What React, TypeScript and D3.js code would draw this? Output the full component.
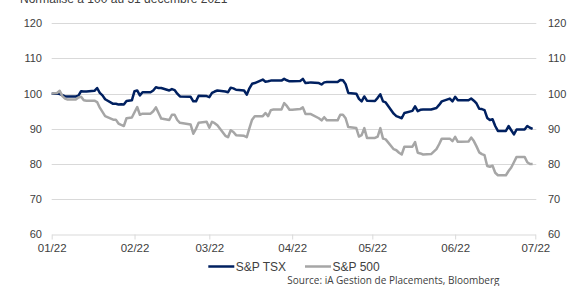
import React, { useEffect, useRef } from 'react'
import * as d3 from 'd3'

// dates (2022) and normalised values
const dates = [
	'01-01', '01-03', '01-04', '01-05', '01-06', '01-07', '01-10', '01-11', '01-12', '01-13',
	'01-14', '01-17', '01-18', '01-19', '01-20', '01-21', '01-24', '01-25', '01-26', '01-27',
	'01-28', '01-29', '01-31', '02-01', '02-02', '02-03', '02-04', '02-07', '02-08', '02-09',
	'02-10', '02-11', '02-14', '02-15', '02-16', '02-17', '02-18', '02-22', '02-23', '02-24',
	'02-25', '02-28', '03-01', '03-02', '03-03', '03-04', '03-07', '03-08', '03-09', '03-10',
	'03-11', '03-14', '03-15', '03-16', '03-17', '03-18', '03-21', '03-22', '03-23', '03-24',
	'03-25', '03-28', '03-29', '03-30', '03-31', '04-01', '04-04', '04-05', '04-06', '04-07',
	'04-08', '04-11', '04-12', '04-13', '04-14', '04-18', '04-19', '04-20', '04-21', '04-22',
	'04-25', '04-26', '04-27', '04-28', '04-29', '05-02', '05-03', '05-04', '05-05', '05-06',
	'05-09', '05-10', '05-11', '05-12', '05-13', '05-16', '05-17', '05-18', '05-19', '05-20',
	'05-23', '05-24', '05-25', '05-26', '05-27', '05-30', '05-31', '06-01', '06-02', '06-03',
	'06-06', '06-07', '06-08', '06-09', '06-10', '06-11', '06-12', '06-13', '06-14', '06-15',
	'06-16', '06-17', '06-20', '06-21', '06-22', '06-23', '06-24', '06-27', '06-28', '06-29',
	'06-30'
]

const tsx = [
	100.0, 100.0, 99.9, 99.6, 99.2, 99.2, 99.2, 99.4, 100.7, 100.6,
	100.6, 100.8, 101.6, 100.2, 99.5, 98.4, 97.1, 97.1, 96.9, 97.0,
	96.9, 97.9, 98.1, 100.7, 100.9, 99.5, 100.4, 100.4, 100.9, 101.8,
	101.6, 101.6, 100.9, 101.3, 101.0, 100.0, 99.2, 99.1, 97.8, 97.8,
	99.4, 99.3, 99.0, 100.2, 100.6, 100.9, 100.6, 100.4, 101.7, 101.5,
	101.1, 100.9, 99.7, 101.5, 102.8, 103.0, 104.0, 103.4, 103.5, 103.7,
	103.7, 103.7, 104.2, 103.8, 103.5, 103.5, 103.6, 104.2, 103.0, 103.1,
	103.2, 103.0, 102.6, 103.2, 103.3, 103.3, 103.9, 103.8, 102.7, 100.2,
	100.0, 98.5, 97.8, 99.2, 98.0, 97.9, 98.8, 99.8, 97.8, 97.5,
	94.3, 93.6, 93.3, 93.0, 94.5, 95.1, 96.4, 95.0, 95.4, 95.5,
	95.5, 95.7, 95.9, 96.8, 97.8, 98.6, 97.8, 99.1, 98.1, 98.1,
	98.1, 98.6, 98.0, 97.2, 95.7, 95.6, 95.3, 93.1, 92.5, 92.7,
	90.8, 89.4, 89.4, 90.8, 89.6, 88.4, 89.8, 89.8, 90.8, 90.3,
	90.0
]

const spx = [
	100.0, 100.2, 100.8, 99.3, 98.6, 98.3, 98.3, 98.9, 99.1, 98.1,
	98.0, 98.0, 97.6, 96.0, 94.8, 93.6, 92.6, 92.6, 91.5, 91.1,
	90.8, 93.0, 93.2, 94.7, 96.2, 94.0, 94.3, 94.3, 95.0, 96.1,
	94.5, 92.9, 92.5, 94.0, 94.0, 92.5, 91.7, 91.2, 88.6, 90.0,
	91.7, 92.0, 90.3, 92.0, 91.6, 91.0, 88.0, 87.6, 89.6, 89.1,
	88.2, 88.0, 87.6, 90.2, 92.6, 93.6, 93.6, 94.5, 93.6, 95.3,
	95.5, 95.5, 97.3, 96.5, 95.4, 95.4, 95.6, 96.1, 94.2, 94.2,
	94.2, 93.0, 92.4, 93.3, 92.4, 92.4, 94.0, 94.0, 93.0, 90.5,
	90.2, 87.8, 88.2, 90.2, 87.4, 87.4, 87.8, 90.2, 87.2, 87.0,
	84.2, 83.9, 83.2, 82.7, 84.9, 84.9, 86.2, 83.2, 83.0, 82.7,
	82.8, 83.5, 84.2, 85.6, 87.2, 87.2, 86.5, 87.7, 86.3, 86.3,
	86.4, 87.5, 86.5, 85.0, 83.3, 82.8, 82.5, 79.4, 79.2, 79.5,
	77.5, 76.8, 76.8, 78.0, 79.0, 80.5, 82.0, 82.0, 80.5, 80.0,
	80.0
]

const yTicks = [60, 70, 80, 90, 100, 110, 120]
const xTicks = ['2022-01-01', '2022-02-01', '2022-03-01', '2022-04-01', '2022-05-01', '2022-06-01', '2022-07-01']

const seriesNames = ['S&P TSX', 'S&P 500']
const seriesColors = ['#002060', '#A6A6A6']

const width = 582
const height = 286
const marginLeft = 51.7
const plotRight = 535.3
const plotTop = 23.3
const plotBottom = 234.3

const App = () => {
	const ref = useRef<SVGSVGElement>(null)

	useEffect(() => {
		if (!ref.current) return
		const svg = d3.select(ref.current)
		svg.selectAll('*').remove()

		const parse = d3.timeParse('%Y-%m-%d')
		const x = d3
			.scaleTime()
			.domain([parse('2022-01-01'), parse('2022-07-01')])
			.range([marginLeft, plotRight])
		const y = d3.scaleLinear().domain([60, 120]).range([plotBottom, plotTop])

		const font = 'Liberation Sans, Arial, sans-serif'

		// titre coupé en haut
		svg
			.append('text')
			.attr('x', 20)
			.attr('y', 3)
			.attr('font-family', font)
			.attr('font-size', 12)
			.attr('fill', '#404040')
			.text('Normalisé à 100 au 31 décembre 2021')

		// grille
		svg
			.append('g')
			.selectAll('line')
			.data(yTicks.filter(d => d !== 60))
			.join('line')
			.attr('x1', marginLeft)
			.attr('x2', plotRight + 1)
			.attr('y1', d => Math.round(y(d)) + 0.5)
			.attr('y2', d => Math.round(y(d)) + 0.5)
			.attr('stroke', '#d9d9d9')
			.attr('stroke-width', 1)

		// axe x
		const xAxis = d3
			.axisBottom(x)
			.tickValues(xTicks.map(d => parse(d)))
			.tickFormat(d3.timeFormat('%m/%y'))
			.tickSize(5)
			.tickSizeOuter(0)
		const gx = svg
			.append('g')
			.attr('transform', `translate(0,${Math.round(plotBottom) + 0.5})`)
			.call(xAxis)
		gx.select('.domain').attr('stroke', '#d9d9d9')
		gx.selectAll('.tick line').attr('stroke', '#d9d9d9')
		gx.selectAll('.tick text')
			.attr('font-family', font)
			.attr('font-size', 11.5)
			.attr('fill', '#404040')
			.attr('dy', 0)
			.attr('y', 17)

		// étiquettes y gauche et droite
		const labels = svg.append('g')
			.attr('font-family', font)
			.attr('font-size', 11)
			.attr('fill', '#404040')
		labels
			.selectAll('text.left')
			.data(yTicks)
			.join('text')
			.attr('class', 'left')
			.attr('x', 42)
			.attr('y', d => y(d) + 4)
			.attr('text-anchor', 'end')
			.text(d => d)
		labels
			.selectAll('text.right')
			.data(yTicks)
			.join('text')
			.attr('class', 'right')
			.attr('x', 548)
			.attr('y', d => y(d) + 4)
			.text(d => d)

		// séries
		const line = d3
			.line<number>()
			.x((_, i) => x(parse('2022-' + dates[i])))
			.y(d => y(d))
		;[tsx, spx].forEach((values, i) => {
			svg
				.append('path')
				.datum(values)
				.attr('fill', 'none')
				.attr('stroke', seriesColors[i])
				.attr('stroke-width', 2.5)
				.attr('stroke-linejoin', 'round')
				.attr('d', line)
		})

		// légende
		const legendX = [208.3, 305]
		const legend = svg.append('g')
		seriesNames.forEach((name, i) => {
			legend
				.append('line')
				.attr('x1', legendX[i])
				.attr('x2', legendX[i] + 26)
				.attr('y1', 266.5)
				.attr('y2', 266.5)
				.attr('stroke', seriesColors[i])
				.attr('stroke-width', 2.5)
			legend
				.append('text')
				.attr('x', legendX[i] + 27.5)
				.attr('y', 270.5)
				.attr('font-family', font)
				.attr('font-size', 12)
				.attr('fill', '#404040')
				.text(name)
		})

		// source
		svg
			.append('text')
			.attr('x', 287.3)
			.attr('y', 284)
			.attr('font-family', 'Open Sans, sans-serif')
			.attr('font-size', 10)
			.attr('fill', '#404040')
			.text('Source: iA Gestion de Placements, Bloomberg')
	}, [])

	return (
		<svg
			ref={ref}
			width={width}
			height={height}
			style={{ position: 'absolute', left: 0, top: 0, background: '#fff' }}
		></svg>
	)
}

export default App
